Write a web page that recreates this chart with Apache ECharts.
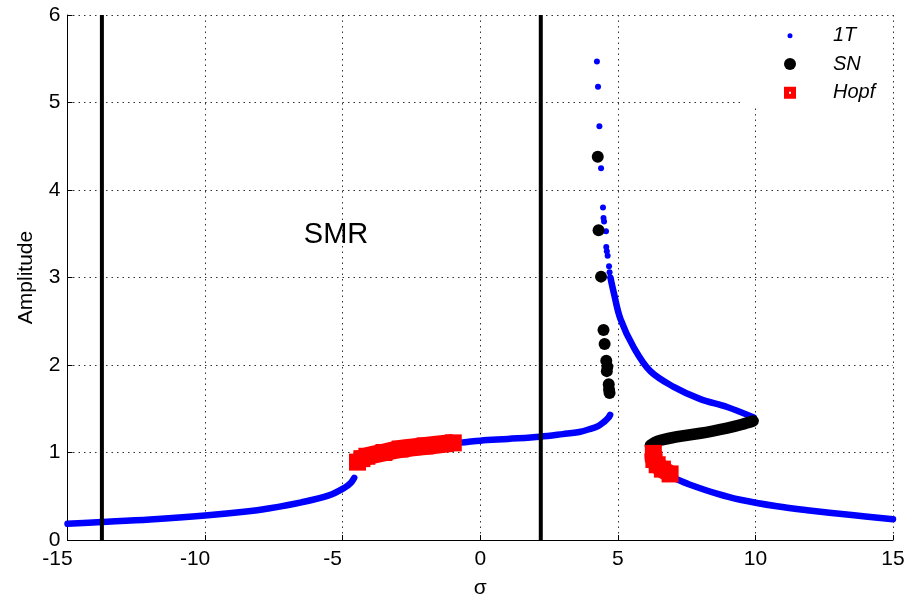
<!DOCTYPE html>
<html>
<head>
<meta charset="utf-8">
<script src="https://cdn.jsdelivr.net/npm/echarts@6/dist/echarts.min.js"></script>
<style>
  html, body { margin: 0; padding: 0; background: #ffffff; }
  #chart { width: 915px; height: 604px; }
</style>
</head>
<body>
<div id="chart"></div>
<script>
// Axis ticks
const xTicks = [-15, -10, -5, 0, 5, 10, 15];
const yTicks = [0, 1, 2, 3, 4, 5, 6];

// 1T periodic solutions: continuous branches [sigma, amplitude]
const oneTLowLeft = [[-15, 0.185], [-13.75, 0.205], [-12, 0.235], [-10, 0.28], [-8.5, 0.325],
  [-7.7, 0.36], [-6.5, 0.43], [-5.5, 0.51], [-4.92, 0.60], [-4.7, 0.655], [-4.58, 0.71]];
const oneTMiddle = [[-0.8, 1.11], [0, 1.135], [1, 1.155], [2.18, 1.18], [3, 1.21], [3.6, 1.235],
  [4.0, 1.27], [4.3, 1.305], [4.5, 1.35], [4.65, 1.395], [4.72, 1.43]];
const oneTUpper = [[4.73, 3.0], [4.85, 2.83], [5.09, 2.53], [5.58, 2.2], [6.18, 1.93],
  [7.03, 1.75], [8.0, 1.61], [8.97, 1.52], [9.94, 1.4]];
const oneTLowRight = [[7.1, 0.7], [7.6, 0.635], [8.6, 0.53], [9.45, 0.46], [10.78, 0.385],
  [11.88, 0.34], [13.5, 0.285], [15, 0.237]];
// 1T isolated points near the backbone peak
const oneTPeak = [[4.24, 5.47], [4.28, 5.18], [4.33, 4.73], [4.39, 4.25], [4.46, 3.8], [4.48, 3.68],
  [4.5, 3.64], [4.57, 3.53], [4.58, 3.35], [4.6, 3.3], [4.63, 3.25], [4.68, 3.13], [4.7, 3.06]];

// Saddle-node (SN) points
const snBranch = [[6.18, 1.08], [6.35, 1.115], [6.55, 1.14], [7.15, 1.18], [8.0, 1.22],
  [8.97, 1.28], [9.5, 1.32], [9.92, 1.36]];
const snPeak = [[4.27, 4.38], [4.3, 3.54], [4.39, 3.01], [4.48, 2.4], [4.52, 2.24], [4.58, 2.05],
  [4.62, 1.98], [4.6, 1.93], [4.67, 1.78], [4.68, 1.72], [4.7, 1.68]];

// Hopf points
const hopfLeft = [[-4.46, 0.89], [-4.3, 0.93], [-4.12, 0.957], [-3.5, 1.0], [-2.91, 1.04],
  [-2.0, 1.075], [-0.98, 1.11]];
const hopfRight = [[6.29, 0.99], [6.31, 0.92], [6.43, 0.86], [6.62, 0.81], [6.9, 0.755]];

// Region boundaries and label
const boundaries = [-13.75, 2.2];
const regionLabel = { text: 'SMR', at: [-5.24, 3.49] };

const FONT = '"Liberation Sans", Arial, sans-serif';
const BLUE = '#0000ff', BLACK = '#000000', RED = '#ff0000';

function branchLine(name, data, color, width, cap) {
  return {
    name, type: 'line', data, smooth: 0.35,
    symbol: 'none', silent: true, animation: false,
    lineStyle: { color, width, cap: cap || 'round', join: 'round', opacity: 1 },
    itemStyle: { color, opacity: 1 }, z: 2
  };
}

const series = [];
[oneTLowLeft, oneTMiddle, oneTUpper, oneTLowRight].forEach(d => series.push(branchLine('1T', d, BLUE, 6.5)));
series.push({ name: '1T', type: 'scatter', data: oneTPeak, symbol: 'circle', symbolSize: 6,
  itemStyle: { color: BLUE, opacity: 1 }, silent: true, animation: false, z: 2 });

boundaries.forEach(xv => series.push({
  type: 'line', data: [[xv, yTicks[0]], [xv, yTicks[yTicks.length - 1]]], symbol: 'none',
  lineStyle: { color: BLACK, width: 4 }, silent: true, animation: false, z: 3
}));

series.push(branchLine('SN', snBranch, BLACK, 11.5));
series.push({ name: 'SN', type: 'scatter', data: snPeak, symbol: 'circle', symbolSize: 12,
  itemStyle: { color: BLACK, opacity: 1 }, silent: true, animation: false, z: 3 });

[hopfLeft, hopfRight].forEach(d => {
  const s = branchLine('Hopf', d, RED, 18, 'butt');
  s.symbol = 'rect'; s.symbolSize = 17; s.showSymbol = true; s.showAllSymbol = true; s.z = 3;
  series.push(s);
});

// region caption, anchored in data coordinates
series.push({
  type: 'scatter', data: [regionLabel.at], symbolSize: 0, silent: true, animation: false,
  itemStyle: { opacity: 1 },
  label: { show: true, position: 'inside', formatter: regionLabel.text, opacity: 1,
    fontFamily: FONT, fontSize: 29, color: BLACK, textBorderWidth: 0 }
});

const legendBase = {
  orient: 'vertical', padding: 0, selectedMode: false,
  textStyle: { fontFamily: FONT, fontStyle: 'italic', fontSize: 20, lineHeight: 22, color: BLACK }
};
const legends = [
  Object.assign({}, legendBase, { left: 787.5, top: 24.7, itemWidth: 5, itemHeight: 5,
    data: [{ name: '1T', icon: 'circle', itemStyle: { color: BLUE } }],
    textStyle: Object.assign({}, legendBase.textStyle, { padding: [0, 0, 0, 35.5] }) }),
  Object.assign({}, legendBase, { left: 784, top: 53, itemWidth: 12, itemHeight: 12,
    data: [{ name: 'SN', icon: 'circle', itemStyle: { color: BLACK } }],
    textStyle: Object.assign({}, legendBase.textStyle, { padding: [0, 0, 0, 32] }) }),
  Object.assign({}, legendBase, { left: 784, top: 81.7, itemWidth: 12, itemHeight: 12,
    data: [{ name: 'Hopf', icon: 'path://M0,0H12V12H0Z M5,5V7H7V5Z', itemStyle: { color: RED } }],
    textStyle: Object.assign({}, legendBase.textStyle, { padding: [0, 0, 0, 32] }) })
];

const gridLine = { show: true, lineStyle: { color: '#333', width: 1, type: [1.5, 4] } };
const tickFont = { fontFamily: FONT, fontSize: 21, color: BLACK };

const chart = echarts.init(document.getElementById('chart'), null, { renderer: 'canvas' });
chart.setOption({
  animation: false,
  backgroundColor: '#ffffff',
  grid: { left: 67.5, right: 22, top: 15, bottom: 56, containLabel: false },
  xAxis: {
    type: 'value', min: xTicks[0], max: xTicks[xTicks.length - 1], interval: 5,
    name: 'σ', nameLocation: 'middle', nameGap: 38,
    nameTextStyle: { fontFamily: FONT, fontSize: 21, color: BLACK },
    axisLine: { show: true, onZero: false, lineStyle: { color: BLACK, width: 1 } },
    axisTick: { show: true, inside: true, length: 5, lineStyle: { color: BLACK } },
    axisLabel: Object.assign({}, tickFont, {
      margin: 9,
      // negative labels keep their digits near the tick, minus sign hanging left
      formatter: v => (v < 0 ? '{neg|' + v + '}' : '' + v),
      rich: { neg: Object.assign({}, tickFont, { padding: [0, 20, 0, 0] }) }
    }),
    splitLine: gridLine
  },
  yAxis: {
    type: 'value', min: yTicks[0], max: yTicks[yTicks.length - 1], interval: 1,
    name: 'Amplitude', nameLocation: 'middle', nameGap: 31,
    nameTextStyle: { fontFamily: FONT, fontSize: 21, color: BLACK },
    axisLine: { show: true, onZero: false, lineStyle: { color: BLACK, width: 1 } },
    axisTick: { show: true, inside: true, length: 5, lineStyle: { color: BLACK } },
    axisLabel: Object.assign({}, tickFont, { margin: 7 }),
    splitLine: gridLine
  },
  legend: legends,
  graphic: [{
    type: 'rect', z: 3, silent: true,
    shape: { x: 742, y: 17, width: 149, height: 89 },
    style: { fill: '#ffffff' }
  }],
  series
});
</script>
</body>
</html>
